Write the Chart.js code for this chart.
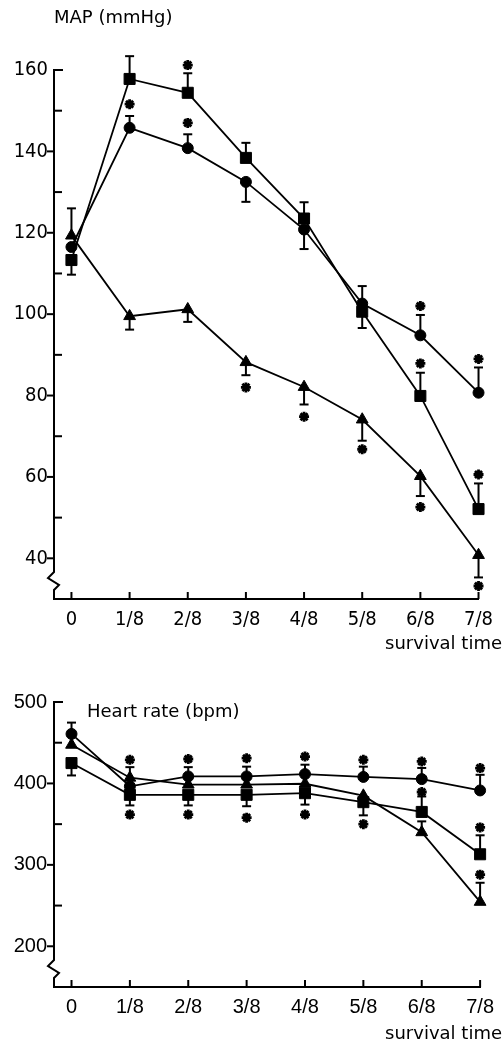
<!DOCTYPE html>
<html>
<head>
<meta charset="utf-8">
<script src="https://cdn.jsdelivr.net/npm/chart.js@4.4.1/dist/chart.umd.min.js"></script>
<style>
  html, body { margin: 0; padding: 0; background: #fff; }
  body { width: 502px; height: 1042px; position: relative; overflow: hidden; }
  canvas { position: absolute; left: 0; }
  #c1 { top: 0; }
  #c2 { top: 650px; }
</style>
</head>
<body>
<canvas id="c1" width="502" height="665"></canvas>
<canvas id="c2" width="502" height="392"></canvas>
<script>
// ---------- data ----------
const categories = ['0', '1/8', '2/8', '3/8', '4/8', '5/8', '6/8', '7/8'];

// MAP (mmHg)
const mapTicks = [40, 60, 80, 100, 120, 140, 160];
const mapMinor = [50, 70, 90, 110, 130, 150];
const mapCircle   = [116.5, 145.8, 140.8, 132.5, 120.8, 102.6, 94.8, 80.7];
const mapSquare   = [113.3, 157.8, 154.4, 138.4, 123.5, 100.6, 79.9, 52.1];
const mapTriangle = [119.3, 99.5, 101.2, 88.2, 82.1, 74.1, 60.2, 40.8];
const mapCircleErr   = [null, 148.7, 144.2, 127.6, 116.0, 96.6, 99.8, 86.9];
const mapSquareErr   = [109.7, 163.4, 159.2, 142.1, 127.5, 106.9, 85.6, 58.4];
const mapTriangleErr = [126.0, 96.2, 98.1, 85.0, 77.8, 68.9, 55.3, 35.3];
const mapCircleStar   = [null, 151.6, 147.0, null, null, null, 102.0, 89.0];
const mapSquareStar   = [null, 165.7, 161.2, null, null, null, 87.9, 60.6];
const mapTriangleStar = [null, null, null, 82.0, 74.8, 66.8, 52.6, 33.2];

// Heart rate (bpm)
const hrTicks = [200, 300, 400, 500];
const hrMinor = [250, 350, 450];
const hrCircle   = [460.8, 396.5, 408.6, 408.6, 411.5, 408.0, 405.3, 391.4];
const hrSquare   = [425.0, 386.0, 386.0, 386.0, 388.0, 377.0, 365.0, 313.0];
const hrTriangle = [447.4, 407.0, 398.5, 398.5, 399.6, 385.0, 340.0, 254.5];
const hrCircleErr   = [474.7, 420.0, 420.0, 420.6, 423.0, 420.6, 419.0, 410.6];
const hrSquareErr   = [409.8, 373.0, 373.0, 372.0, 374.0, 360.8, 384.0, 336.3];
const hrTriangleErr = [null, null, null, null, null, null, 353.4, 278.0];
const hrCircleStar   = [null, 429, 430, 431, 433, 429, 427, 418.8];
const hrSquareStar   = [null, 361.7, 361.7, 358, 361.8, 350, 389.5, 346];
const hrTriangleStar = [null, null, null, null, null, null, null, 288];

// ---------- helpers ----------
const FONT = 'DejaVu Sans';
const NARROW = '"Liberation Sans Narrow", "DejaVu Sans Condensed", sans-serif';
const WIDE = '"Liberation Sans", Arial, sans-serif';
const toPts = arr => arr.map((v, i) => (v === null ? null : { x: i, y: v })).filter(p => p);

function seriesDS(values, style, radius) {
  return {
    data: toPts(values), showLine: true, borderColor: '#000', borderWidth: 1.8,
    pointStyle: style, pointRadius: radius, pointHoverRadius: radius,
    pointBackgroundColor: '#000', pointBorderColor: '#000', pointBorderWidth: 1,
    clip: false, order: 1
  };
}
function starDS(lists) {
  const pts = [];
  lists.forEach(l => pts.push(...toPts(l)));
  return {
    data: pts, showLine: false, pointStyle: 'star', pointRadius: 5, pointHoverRadius: 5,
    pointBorderColor: '#000', pointBackgroundColor: '#000', pointBorderWidth: 2.8,
    clip: false, order: 2
  };
}

const decor = {
  id: 'decor',
  beforeDatasetsDraw(chart, args, o) {
    const ctx = chart.ctx, xs = chart.scales.x, ys = chart.scales.y, ca = chart.chartArea;
    const L = ca.left, B = ca.bottom;
    const seg = (x1, y1, x2, y2) => { ctx.beginPath(); ctx.moveTo(x1, y1); ctx.lineTo(x2, y2); ctx.stroke(); };
    ctx.save();
    ctx.strokeStyle = '#000';
    ctx.lineWidth = 2;
    // y axis line with break
    ctx.beginPath();
    ctx.moveTo(L, ca.top - 1);
    ctx.lineTo(L, B - 27);
    ctx.lineTo(L - 6, B - 21);
    ctx.lineTo(L + 5, B - 14);
    ctx.lineTo(L, B - 9);
    ctx.lineTo(L, B + 1);
    ctx.stroke();
    // major ticks (outward), top tick inward
    o.major.forEach(v => {
      const py = ys.getPixelForValue(v);
      if (v === o.topTick) seg(L, py, L + 9, py); else seg(L - 7, py, L, py);
    });
    // minor ticks (inward)
    o.minor.forEach(v => { const py = ys.getPixelForValue(v); seg(L, py, L + 8, py); });
    // x ticks (inward)
    categories.forEach((c, i) => { const px = xs.getPixelForValue(i); seg(px, B, px, B - 7); });
    // error bars
    ctx.lineWidth = 2;
    o.errors.forEach(e => {
      e.ends.forEach((end, i) => {
        if (end === null) return;
        const px = xs.getPixelForValue(i);
        const p0 = ys.getPixelForValue(e.values[i]);
        const p1 = ys.getPixelForValue(end);
        seg(px, p0, px, p1);
        seg(px - 4.5, p1, px + 4.5, p1);
      });
    });
    ctx.restore();
  },
  afterDraw(chart, args, o) {
    const ctx = chart.ctx;
    ctx.save();
    ctx.fillStyle = '#000';
    o.texts.forEach(t => {
      ctx.font = t.size + 'px "' + FONT + '"';
      ctx.textAlign = t.align;
      ctx.textBaseline = t.baseline;
      ctx.fillText(t.text, t.x, t.y);
    });
    ctx.restore();
  }
};

function makeChart(id, cfg) {
  return new Chart(document.getElementById(id), {
    type: 'scatter',
    data: { datasets: cfg.datasets },
    plugins: [decor],
    options: {
      responsive: false, animation: false, events: [],
      layout: { padding: { top: cfg.padTop, right: 13, left: 0, bottom: 0 } },
      plugins: {
        legend: { display: false }, tooltip: { enabled: false },
        decor: { major: cfg.ticks, minor: cfg.minor, topTick: cfg.max, errors: cfg.errors, texts: cfg.texts }
      },
      scales: {
        x: {
          type: 'linear', min: -0.3, max: 7,
          grid: { display: false, drawTicks: false },
          border: { display: true, width: 2, color: '#000' },
          afterBuildTicks: s => { s.ticks = categories.map((c, i) => ({ value: i })); },
          afterFit: s => { s.height = cfg.xHeight; },
          ticks: { callback: (v, i) => categories[i], padding: cfg.xPad, autoSkip: false, maxRotation: 0,
                   color: '#000', font: { family: cfg.tickFont, size: 20 } }
        },
        y: {
          type: 'linear', min: cfg.min, max: cfg.max,
          grid: { display: false, drawTicks: false },
          border: { display: false },
          afterBuildTicks: s => { s.ticks = cfg.ticks.map(v => ({ value: v })); },
          afterFit: s => { s.width = 54; },
          ticks: { padding: cfg.yPad, color: '#000', font: { family: cfg.tickFont, size: 20 } }
        }
      }
    }
  });
}

makeChart('c1', {
  padTop: 70, xHeight: 66, xPad: 9, yPad: 6, min: 30, max: 160, tickFont: NARROW,
  ticks: mapTicks, minor: mapMinor,
  datasets: [
    starDS([mapCircleStar, mapSquareStar, mapTriangleStar]),
    seriesDS(mapCircle, 'circle', 5.5),
    seriesDS(mapSquare, 'rect', 7.8),
    seriesDS(mapTriangle, 'triangle', 6.8)
  ],
  errors: [
    { values: mapCircle, ends: mapCircleErr },
    { values: mapSquare, ends: mapSquareErr },
    { values: mapTriangle, ends: mapTriangleErr }
  ],
  texts: [
    { text: 'MAP (mmHg)', x: 54, y: 18, size: 18, align: 'left', baseline: 'middle' },
    { text: 'survival time', x: 502, y: 649, size: 18, align: 'right', baseline: 'alphabetic' }
  ]
});

makeChart('c2', {
  padTop: 52, xHeight: 55, xPad: 8, yPad: 7, min: 150, max: 500, tickFont: WIDE,
  ticks: hrTicks, minor: hrMinor,
  datasets: [
    starDS([hrCircleStar, hrSquareStar, hrTriangleStar]),
    seriesDS(hrCircle, 'circle', 5.5),
    seriesDS(hrSquare, 'rect', 7.8),
    seriesDS(hrTriangle, 'triangle', 6.8)
  ],
  errors: [
    { values: hrCircle, ends: hrCircleErr },
    { values: hrSquare, ends: hrSquareErr },
    { values: hrTriangle, ends: hrTriangleErr }
  ],
  texts: [
    { text: 'Heart rate (bpm)', x: 87, y: 62, size: 18, align: 'left', baseline: 'middle' },
    { text: 'survival time', x: 502, y: 389, size: 18, align: 'right', baseline: 'alphabetic' }
  ]
});
</script>
</body>
</html>
